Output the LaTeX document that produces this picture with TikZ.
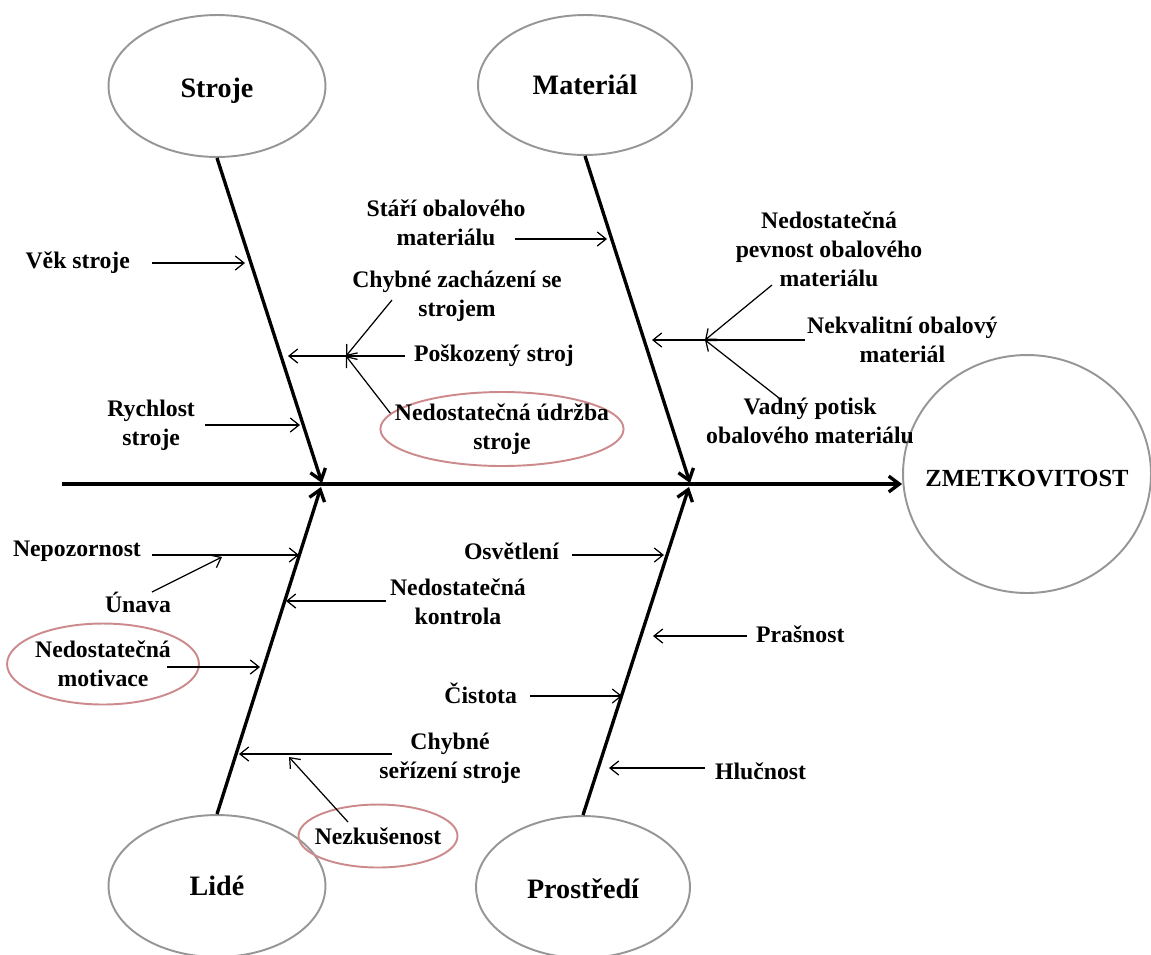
\documentclass[tikz,border=0pt]{standalone}
\usepackage{fontspec}
\setmainfont{Liberation Serif}
\usetikzlibrary{shapes.geometric,arrows.meta}
\definecolor{rimgray}{RGB}{150,150,150}
\definecolor{rimpink}{RGB}{205,138,140}
\begin{document}
\begin{tikzpicture}[x=0.02cm,y=-0.02cm]
                \tikzstyle{head} = [ellipse, draw=rimgray, line width=1.1pt, minimum width=4.34cm, minimum height=2.84cm, font=\bfseries\fontsize{16}{19}\selectfont]
                \tikzstyle{txt} = [align=center, inner sep=1pt, font=\bfseries\fontsize{13.5}{16.5}\selectfont]
                \tikzstyle{hl} = [ellipse, draw=rimpink, line width=1.1pt, inner sep=0pt]
                \tikzstyle{bone} = [line width=1.9pt, -{Straight Barb[length=6pt,width=9pt]}]
                \tikzstyle{arrow} = [line width=0.7pt, -{Straight Barb[length=5pt,width=8pt]}]

                \useasboundingbox (0,0) rectangle (1151,954);

                \node (effect) [head, inner sep=0pt, inner xsep=-10pt, minimum width=4.96cm, minimum height=4.76cm, font=\bfseries\fontsize{14}{17}\selectfont] at (1027,474) {\raisebox{-6.9pt}[0pt][0pt]{ZMETKOVITOST}};
                \node (stroje) [head] at (217,86) {\raisebox{-6.3pt}[0pt][0pt]{Stroje}};
                \node (material) [head, minimum width=4.28cm, minimum height=2.80cm] at (585,85) {Materiál};
                \node (lide) [head] at (217,886) {Lidé};
                \node (prostredi) [head, minimum width=4.28cm] at (583,887) {\raisebox{-6.5pt}[0pt][0pt]{Prostředí}};

                \coordinate (tail) at (62,484);
                \coordinate (j1) at (322,483);
                \coordinate (j2) at (690,483);
                \coordinate (j3) at (321,487);
                \coordinate (j4) at (689,487);
                \draw [bone] (tail) -- (tail -| effect.west);
                \draw [bone] (stroje.south) -- (j1);
                \draw [bone] (material.south) -- (j2);
                \draw [bone] (lide.north) -- (j3);
                \draw [bone] (prostredi.north) -- (j4);

                \node (vek) [txt, anchor=east] at (132,263) {Věk stroje};
                \node (rychlost) [txt, anchor=east] at (197,425) {Rychlost\\stroje};
                \node (poskozeny) [txt, anchor=west] at (412,356) {Poškozený stroj};
                \node (zachazeni) [txt] at (457,296) {Chybné zacházení se\\strojem};
                \node (udrzba) [txt, hl, inner xsep=-12pt, inner ysep=-3pt, minimum width=4.8cm, minimum height=1.48cm] at (502,429) {Nedostatečná údržba\\stroje};
                \coordinate (t1) at (245,263);
                \coordinate (t2) at (300,425);
                \coordinate (t3) at (288,356);
                \coordinate (p1) at (346,356);
                \coordinate (s1) at (392,300);
                \draw [arrow, shorten <=0.4cm] (vek.east) -- (t1);
                \draw [arrow, shorten <=0.16cm] (rychlost.east) -- (t2);
                \draw [arrow, shorten <=0.14cm] (poskozeny.west) -- (t3);
                \draw [arrow] (s1) -- (p1);
                \draw [arrow] (udrzba.172) -- (p1);

                \node (stari) [txt] at (446,223) {Stáří obalového\\materiálu};
                \node (pevnost) [txt] at (829,249) {Nedostatečná\\pevnost obalového\\materiálu};
                \node (nekvalitni) [txt, anchor=west] at (805,340) {Nekvalitní obalový\\materiál};
                \node (vadny) [txt] at (810,421) {Vadný potisk\\obalového materiálu};
                \coordinate (s2) at (515,239);
                \coordinate (t4) at (607,239);
                \coordinate (t5) at (652,340);
                \coordinate (p2) at (705,340);
                \coordinate (s3) at (772,285);
                \coordinate (s4) at (779,398);
                \draw [arrow] (s2) -- (t4);
                \draw [arrow] (nekvalitni.west) -- (t5);
                \draw [arrow] (s3) -- (p2);
                \draw [arrow] (s4) -- (p2);

                \node (nepozornost) [txt, anchor=east] at (143,551) {Nepozornost};
                \node (unava) [txt] at (138,602) {Únava};
                \node (motivace) [txt, hl, minimum width=3.72cm, minimum height=1.62cm] at (103,664) {Nedostatečná\\motivace};
                \node (kontrola) [txt, anchor=west] at (388,602) {Nedostatečná\\kontrola};
                \node (serizeni) [txt] at (450,758) {Chybné\\seřízení stroje};
                \node (nezkusenost) [txt, hl, inner xsep=-4pt, minimum width=3.14cm, minimum height=1.26cm] at (378,836) {Nezkušenost};
                \coordinate (t6) at (299,555);
                \coordinate (p3) at (222,557);
                \coordinate (s5) at (152,592);
                \coordinate (s6) at (167,667);
                \coordinate (t7) at (260,667);
                \coordinate (t8) at (286,601);
                \coordinate (s7) at (392,754);
                \coordinate (t9) at (239,754);
                \coordinate (s8) at (348,822);
                \coordinate (p4) at (289,757);
                \draw [arrow, shorten <=0.18cm] (nepozornost.east |- t6) -- (t6);
                \draw [arrow] (s5) -- (p3);
                \draw [arrow] (s6) -- (t7);
                \draw [arrow, shorten <=0.04cm] (kontrola.west |- t8) -- (t8);
                \draw [arrow] (s7) -- (t9);
                \draw [arrow] (s8) -- (p4);

                \node (osvetleni) [txt, anchor=east] at (561,551) {Osvětlení};
                \node (cistota) [txt, anchor=east] at (519,693) {Čistota};
                \node (prasnost) [txt, anchor=west] at (754,634) {Prašnost};
                \node (hlucnost) [txt, anchor=west] at (713,771) {Hlučnost};
                \coordinate (t10) at (664,555);
                \coordinate (t11) at (622,696);
                \coordinate (t12) at (653,636);
                \coordinate (t13) at (609,768);
                \draw [arrow, shorten <=0.22cm] (osvetleni.east |- t10) -- (t10);
                \draw [arrow, shorten <=0.22cm] (cistota.east |- t11) -- (t11);
                \draw [arrow, shorten <=0.14cm] (prasnost.west |- t12) -- (t12);
                \draw [arrow, shorten <=0.16cm] (hlucnost.west |- t13) -- (t13);
            \end{tikzpicture}
\end{document}
